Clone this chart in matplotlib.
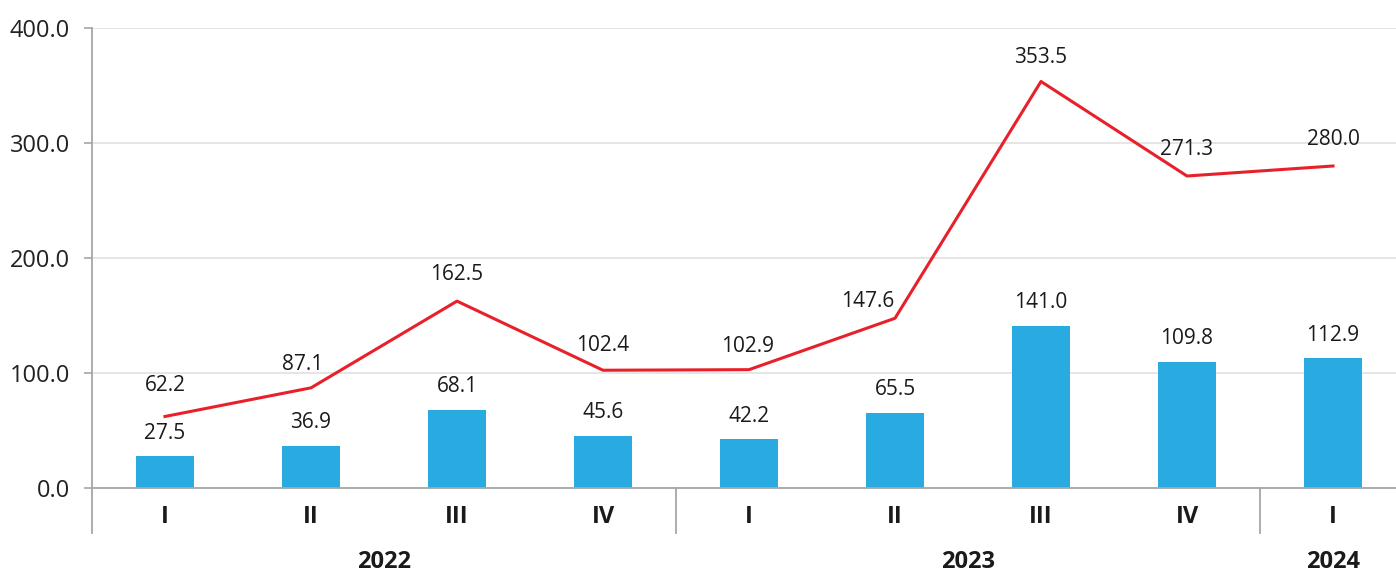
import numpy as np
import matplotlib.pyplot as plt
import matplotlib.transforms as mtransforms

plt.rcParams['font.family'] = ['Open Sans', 'DejaVu Sans']

quarters = ['I', 'II', 'III', 'IV', 'I', 'II', 'III', 'IV', 'I']
years = ['2022', '2023', '2024']
year_span = [(0, 3), (4, 7), (8, 8)]
bar_vals = [27.5, 36.9, 68.1, 45.6, 42.2, 65.5, 141.0, 109.8, 112.9]
line_vals = [62.2, 87.1, 162.5, 102.4, 102.9, 147.6, 353.5, 271.3, 280.0]

# label offsets for the line values (points), tweaked like the original
line_dx = [0, -6, 0, 0, -1, -20, 0, 0, 0]
line_dy = [22, 17, 19, 18, 17, 12, 17, 19, 19]

W, H = 1396, 573
fig = plt.figure(figsize=(W / 100, H / 100), dpi=100)
ax = fig.add_axes([92 / W, 85 / H, 1314 / W, 460 / H])

x = np.arange(len(quarters))
bar_col = '#29ABE2'
line_col = '#E8202A'
txt_col = '#1a1a1a'
axis_col = '#A6A6A6'

ax.bar(x, bar_vals, width=0.4, color=bar_col, zorder=2)
ax.plot(x, line_vals, color=line_col, lw=2.2, zorder=3)

for xi, v in zip(x, bar_vals):
    ax.annotate(f'{v:.1f}', (xi, v), xytext=(0, 16.5), textcoords='offset points',
                ha='center', va='center', fontsize=15, color=txt_col)
for xi, v, dx, dy in zip(x, line_vals, line_dx, line_dy):
    ax.annotate(f'{v:.1f}', (xi, v), xytext=(dx, dy), textcoords='offset points',
                ha='center', va='center', fontsize=15, color=txt_col)

ax.set_xlim(-0.5, 8.5)
ax.set_ylim(0, 400)
ax.set_yticks([0, 100, 200, 300, 400])
ax.set_yticklabels([f'{t:.1f}' for t in [0, 100, 200, 300, 400]])
ax.tick_params(axis='y', length=6, width=1.2, color=axis_col, pad=10,
               labelsize=17, labelcolor='#222222')
ax.set_xticks([])
ax.grid(axis='y', color='#E3E3E3', lw=1.3, zorder=0)
ax.set_axisbelow(True)

for s in ['top', 'right']:
    ax.spines[s].set_visible(False)
ax.spines['left'].set_color(axis_col)
ax.spines['bottom'].set_color(axis_col)
ax.spines['left'].set_linewidth(1.3)
ax.spines['bottom'].set_linewidth(1.3)

# extend left spine and draw year separators below the axis
trans = mtransforms.blended_transform_factory(ax.transData, ax.transAxes)
drop = -45 / 460
for xs in [-0.5, 3.5, 7.5]:
    ax.plot([xs, xs], [0, drop], transform=trans, color=axis_col, lw=1.3,
            clip_on=False)

for xi, q in zip(x, quarters):
    ax.text(xi, -29 / 460, q, transform=trans, ha='center', va='center',
            fontsize=17, fontweight='bold', color=txt_col)
for yr, (a, b) in zip(years, year_span):
    ax.text((a + b) / 2, -74 / 460, yr, transform=trans, ha='center',
            va='center', fontsize=17, fontweight='bold', color=txt_col)

fig.savefig('out.png', dpi=100)
